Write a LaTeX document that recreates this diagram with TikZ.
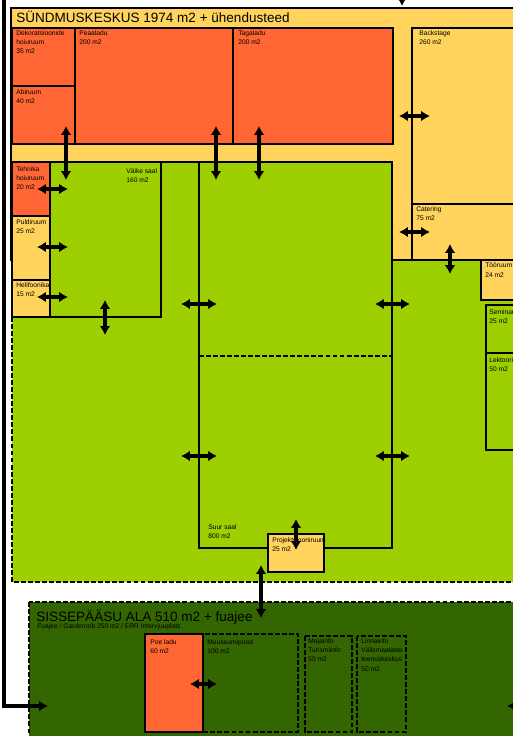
\documentclass[tikz,border=0pt]{standalone}
\usepackage{fontspec}
\setmainfont{Liberation Sans}
\usetikzlibrary{arrows.meta}
\definecolor{roomorange}{HTML}{FF6633}
\definecolor{roomyellow}{HTML}{FFD35C}
\definecolor{hallgreen}{HTML}{9ECF00}
\definecolor{lobbygreen}{HTML}{336600}

\begin{document}
\begin{tikzpicture}[x=0.02cm,y=-0.02cm,
    door/.style={line width=2pt,{Latex[length=5pt,width=6pt]}-{Latex[length=5pt,width=6pt]}},
    route/.style={line width=2pt,-{Latex[length=5pt,width=6pt]}}]
    \tikzstyle{wall}=[draw=black,line width=0.7pt]
    \tikzstyle{soft}=[draw=black,line width=0.7pt,dash pattern=on 2.8pt off 1.2pt]
    \tikzstyle{lbl}=[anchor=north west,inner sep=0pt,align=left,font=\fontsize{3.8}{5.3}\selectfont]
    \tikzstyle{title}=[anchor=base west,inner sep=0pt,font=\fontsize{7.7}{9}\selectfont]
    \useasboundingbox (0,0) rectangle (513,736);
    \clip (0,0) rectangle (513,736);
    % main block and hall area
    \draw [wall, fill=roomyellow] (11,8) rectangle (540,260);
    \fill [hallgreen] (12,162) -- (392,162) -- (392,260) -- (540,260) -- (540,582) -- (12,582) -- cycle;
    \draw [wall] (12,162) -- (392,162) -- (392,260) -- (540,260);
    \draw [soft] (12,317) -- (12,582) -- (540,582);
    % stores
    \draw [wall, fill=roomorange] (12,28) rectangle (75,86);
    \draw [wall, fill=roomorange] (12,86) rectangle (75,144);
    \draw [wall, fill=roomorange] (75,28) rectangle (233,144);
    \draw [wall, fill=roomorange] (233,28) rectangle (393,144);
    \draw [wall, fill=roomyellow] (412,28) rectangle (540,204);
    \draw [wall, fill=roomyellow] (412,204) rectangle (540,260);
    % small rooms beside the halls
    \draw [wall, fill=roomorange] (12,162) rectangle (50,216);
    \draw [wall, fill=roomyellow] (12,216) rectangle (50,280);
    \draw [wall, fill=roomyellow] (12,280) rectangle (50,317);
    \draw [wall] (50,162) rectangle (161,317);
    \draw [wall] (199,162) rectangle (392,548);
    \draw [soft] (199,356) -- (392,356);
    \draw [wall, fill=roomyellow] (268,534) rectangle (324,572);
    \draw [wall, fill=roomyellow] (481,260) rectangle (540,300);
    \draw [wall] (486,305) rectangle (540,353);
    \draw [wall] (486,353) rectangle (540,450);
    % entrance block
    \draw [soft, fill=lobbygreen] (29,602) rectangle (540,750);
    \draw [wall, fill=roomorange] (145,634) rectangle (203,732);
    \draw [soft] (203,634) rectangle (298,732);
    \draw [soft] (305,636) rectangle (352,732);
    \draw [soft] (357,636) rectangle (406,732);
    % texts
    \node[title] (T_main) at (16,23) {SÜNDMUSKESKUS 1974 m2 + ühendusteed};
    \node[title] (T_entry) at (36,621) {SISSEPÄÄSU ALA 510 m2 + fuajee};
    \node[lbl, anchor=base west] (T_sub) at (37,628) {Fuajee / Garderoob 250 m2 / ERR Intervjuuplats};
    \node[lbl] (L_dekor) at (16,30) {Dekoratsioonide\\hoiuruum\\35 m2};
    \node[lbl] (L_abi) at (16,89) {Abiruum\\40 m2};
    \node[lbl] (L_pea) at (79,30) {Peaaladu\\200 m2};
    \node[lbl] (L_taga) at (238,30) {Tagaladu\\200 m2};
    \node[lbl] (L_back) at (419,30) {Backstage\\260 m2};
    \node[lbl] (L_cater) at (416,206) {Catering\\75 m2};
    \node[lbl] (L_tehn) at (16,166) {Tehnika\\hoiuruum\\20 m2};
    \node[lbl] (L_puldi) at (16,219) {Puldiruum\\25 m2};
    \node[lbl] (L_heli) at (16,282) {Helifoonika\\15 m2};
    \node[lbl] (L_vaike) at (126,168) {Väike saal\\160 m2};
    \node[lbl] (L_suur) at (208,524) {Suur saal\\800 m2};
    \node[lbl] (L_proj) at (272,537) {Projektsiooniruum\\25 m2};
    \node[lbl] (L_too) at (485,263) {Tööruum\\24 m2};
    \node[lbl] (L_semi) at (489,309) {Seminariruum\\25 m2};
    \node[lbl] (L_lekt) at (489,357) {Lektoorium\\50 m2};
    \node[lbl] (L_poe) at (150,639) {Poe ladu\\60 m2};
    \node[lbl] (L_muus) at (207,639) {Muuseumipood\\100 m2};
    \node[lbl] (L_maja) at (308,638) {Majainfo\\Turismiinfo\\50 m2};
    \node[lbl] (L_linn) at (361,638) {Linnainfo\\Välismaalaste\\teenuskeskus\\50 m2};
    % doors
    \coordinate (D_1a) at (66,126);   \coordinate (D_1b) at (66,180);
    \coordinate (D_2a) at (216,126);  \coordinate (D_2b) at (216,180);
    \coordinate (D_3a) at (259,126);  \coordinate (D_3b) at (259,180);
    \coordinate (D_4a) at (399,116);  \coordinate (D_4b) at (430,116);
    \coordinate (D_5a) at (37,189);   \coordinate (D_5b) at (68,189);
    \coordinate (D_6a) at (37,247);   \coordinate (D_6b) at (68,247);
    \coordinate (D_7a) at (37,297);   \coordinate (D_7b) at (68,297);
    \coordinate (D_8a) at (105,300);  \coordinate (D_8b) at (105,335);
    \coordinate (D_9a) at (181,304);  \coordinate (D_9b) at (217,304);
    \coordinate (D_10a) at (375,304); \coordinate (D_10b) at (410,304);
    \coordinate (D_11a) at (181,456); \coordinate (D_11b) at (217,456);
    \coordinate (D_12a) at (375,456); \coordinate (D_12b) at (410,456);
    \coordinate (D_13a) at (296,519); \coordinate (D_13b) at (296,550);
    \coordinate (D_14a) at (261,565); \coordinate (D_14b) at (261,618);
    \coordinate (D_15a) at (399,232); \coordinate (D_15b) at (430,232);
    \coordinate (D_16a) at (450,244); \coordinate (D_16b) at (450,274);
    \coordinate (D_17a) at (190,684); \coordinate (D_17b) at (217,684);
    \foreach \d in {1,...,17}
      \draw [door] (D_\d a) -- (D_\d b);
    % routes from outside
    \coordinate (W_top) at (4,-5);
    \coordinate (W_turn) at (4,706);
    \coordinate (W_end) at (48,706);
    \draw [route] (W_top) -- (W_turn) -- (W_end);
    \coordinate (N_top) at (402,-20);
    \coordinate (N_end) at (402,6);
    \draw [route] (N_top) -- (N_end);
    \coordinate (E_out) at (540,706);
    \coordinate (E_end) at (507,706);
    \draw [route] (E_out) -- (E_end);
  \end{tikzpicture}
\end{document}
